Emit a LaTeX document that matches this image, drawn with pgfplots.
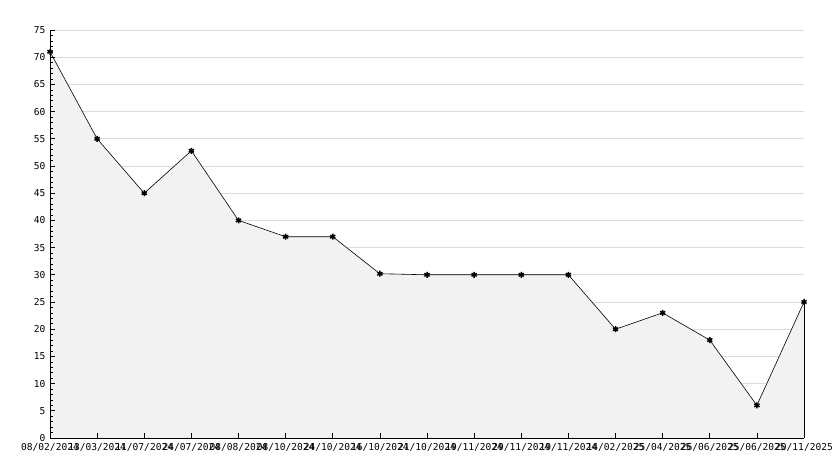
\documentclass[border=0pt]{standalone}
\usepackage{pgfplots}
\pgfplotsset{compat=1.18}
\usepackage{fontspec}
\setmainfont{DejaVu Sans Mono}
\definecolor{fillgray}{HTML}{F2F2F2}
\definecolor{gridgray}{HTML}{DCDCDC}
\pgfplotsset{base/.style={
  scale only axis,
  width=754bp, height=408bp,
  xmin=0, xmax=16, ymin=0, ymax=75,
  axis x line=bottom, axis y line=left,
  xtick={0,...,16},
  ytick distance=5,
  clip=false,
}}
\begin{document}
\begin{tikzpicture}[x=1bp,y=1bp]
\begin{axis}[
  base, name=ax,
  axis line style={draw=none},
  major tick length=0pt,
  xticklabels={}, yticklabels={},
  ymajorgrids,
  grid style={gridgray, line width=0.6bp},
]
\addplot[fill=fillgray, draw=none] coordinates {
(0,71) (1,55) (2,45) (3,52.8) (4,40) (5,37) (6,37) (7,30.2) (8,30) (9,30) (10,30) (11,30) (12,20) (13,23) (14,18) (15,6) (16,25)
} \closedcycle;
\addplot[black, line width=0.6bp] coordinates {(16,0) (16,25)};
\addplot[black, line width=0.6bp, mark=asterisk, mark size=3bp, mark options={line width=1.5bp}] coordinates {
(0,71) (1,55) (2,45) (3,52.8) (4,40) (5,37) (6,37) (7,30.2) (8,30) (9,30) (10,30) (11,30) (12,20) (13,23) (14,18) (15,6) (16,25)
};
\end{axis}
\begin{axis}[
  base,
  axis line style={-, black, line width=0.8bp},
  xticklabels={08/02/2024,13/03/2024,11/07/2024,24/07/2024,08/08/2024,08/10/2024,24/10/2024,16/10/2024,21/10/2024,19/11/2024,29/11/2024,19/11/2024,14/02/2025,25/04/2025,26/06/2025,25/06/2025,20/11/2025},
  minor y tick num=4,
  tick align=inside,
  major tick length=5bp,
  minor tick length=3bp,
  tick style={black, line width=0.6bp},
  ticklabel style={font=\fontsize{9.6}{10}\selectfont, text=black},
  /pgf/number format/assume math mode=true,
  yticklabel style={xshift=-1bp},
  xticklabel style={yshift=-2bp},
]
\end{axis}
\pgfresetboundingbox
\path[use as bounding box] ([xshift=-50bp,yshift=-30bp]ax.south west) rectangle ([xshift=30bp,yshift=30bp]ax.north east);
\end{tikzpicture}
\end{document}
